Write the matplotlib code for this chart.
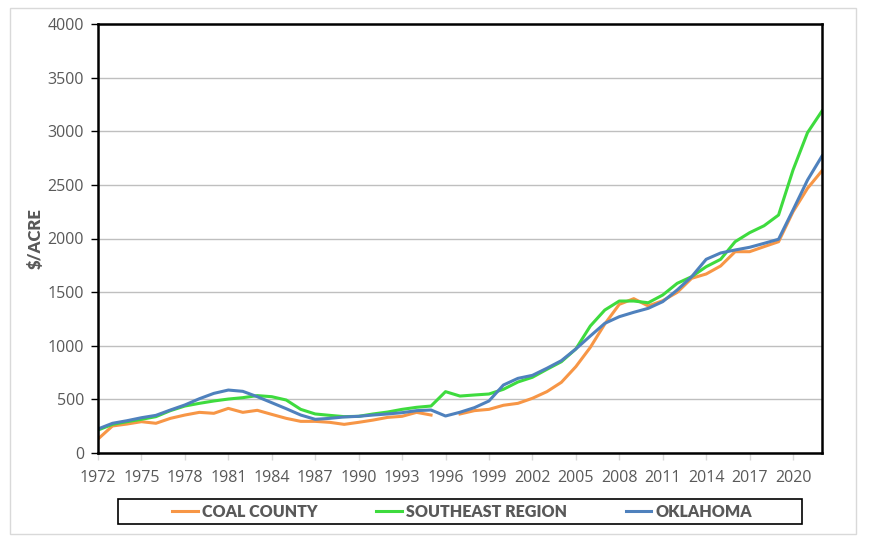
import numpy as np
import matplotlib
matplotlib.use("Agg")
import matplotlib.pyplot as plt
from matplotlib.patches import Rectangle

# ---- data ($/acre) ----
years = list(range(1972, 2023))

coal_county = [130, 252, 270, 292, 277, 323, 354, 379, 370, 416,
               379, 398, 360, 323, 295, 295, 286, 267, 286, 307,
               332, 342, 379, 354, np.nan, 364, 395, 407, 445, 463,
               510, 572, 659, 805, 985, 1203, 1386, 1439, 1371, 1420,
               1498, 1629, 1669, 1744, 1877, 1877, 1924, 1970, 2250, 2468,
               2632]

southeast = [214, 267, 292, 314, 339, 395, 438, 463, 485, 503,
             516, 535, 525, 494, 407, 364, 351, 339, 342, 364,
             382, 407, 426, 438, 572, 531, 541, 550, 594, 662,
             706, 780, 851, 970, 1184, 1333, 1417, 1417, 1401, 1473,
             1582, 1644, 1737, 1806, 1970, 2054, 2119, 2219, 2639, 2987,
             3189]

oklahoma = [224, 277, 301, 329, 351, 401, 448, 506, 556, 587,
            575, 525, 469, 413, 354, 314, 323, 336, 342, 354,
            364, 376, 395, 401, 345, 380, 423, 485, 634, 696,
            724, 790, 861, 970, 1091, 1209, 1271, 1312, 1349, 1411,
            1520, 1644, 1806, 1865, 1893, 1918, 1955, 1993, 2266, 2545,
            2769]

labels = ["COAL COUNTY", "SOUTHEAST REGION", "OKLAHOMA"]
colors = ["#F79646", "#3EDB3E", "#4F81BD"]

GREY = "#595959"
W, H = 872, 539

fig = plt.figure(figsize=(W / 100, H / 100), dpi=100, facecolor="white")

# outer chart-area border
fig.patches.append(Rectangle((10 / W, 1 - 534 / H), 846 / W, 526 / H,
                             transform=fig.transFigure, fill=False,
                             edgecolor="#D9D9D9", lw=1.0))

ax = fig.add_axes([98 / W, 1 - 453 / H, 724 / W, 429 / H])

for series, lab, col in zip([coal_county, southeast, oklahoma], labels, colors):
    ax.plot(years, series, color=col, lw=2.2, label=lab, solid_joinstyle="round")

ax.set_xlim(1972, 2022)
ax.set_ylim(0, 4000)
ax.set_xticks(range(1972, 2021, 3))
ax.set_yticks(range(0, 4001, 500))
ax.grid(axis="y", color="#BFBFBF", lw=1.0)
ax.set_axisbelow(True)

for sp in ax.spines.values():
    sp.set_color("black")
    sp.set_linewidth(1.8)

ax.tick_params(axis="y", colors=GREY, labelsize=11.5, length=5, width=1.0,
               direction="out", pad=5)
ax.tick_params(axis="x", colors="#D9D9D9", labelcolor=GREY, labelsize=11.5,
               length=5, width=1.0, direction="out", pad=7)
ax.tick_params(axis="y", color="black")
for t in ax.get_xticklabels() + ax.get_yticklabels():
    t.set_fontfamily("Open Sans")

fig.text(36 / W, 1 - 239 / H, "\\$/ACRE", rotation=90, ha="center", va="center",
         color=GREY, fontsize=12, fontweight="heavy", family="Lato")

# legend + its box
handles, labs = ax.get_legend_handles_labels()
fig.legend(handles, labs, loc="center", bbox_to_anchor=(462 / W, 1 - 512 / H),
           ncol=3, frameon=False, handlelength=1.6, handletextpad=0.25,
           columnspacing=3.7, prop={"family": "Lato", "weight": "heavy", "size": 11.5})
leg = fig.legends[0]
for t in leg.get_texts():
    t.set_color(GREY)
fig.patches.append(Rectangle((118 / W, 1 - 524 / H), 684 / W, 25 / H,
                             transform=fig.transFigure, fill=False,
                             edgecolor="black", lw=1.2))

fig.savefig("out.png", dpi=100, facecolor="white")
